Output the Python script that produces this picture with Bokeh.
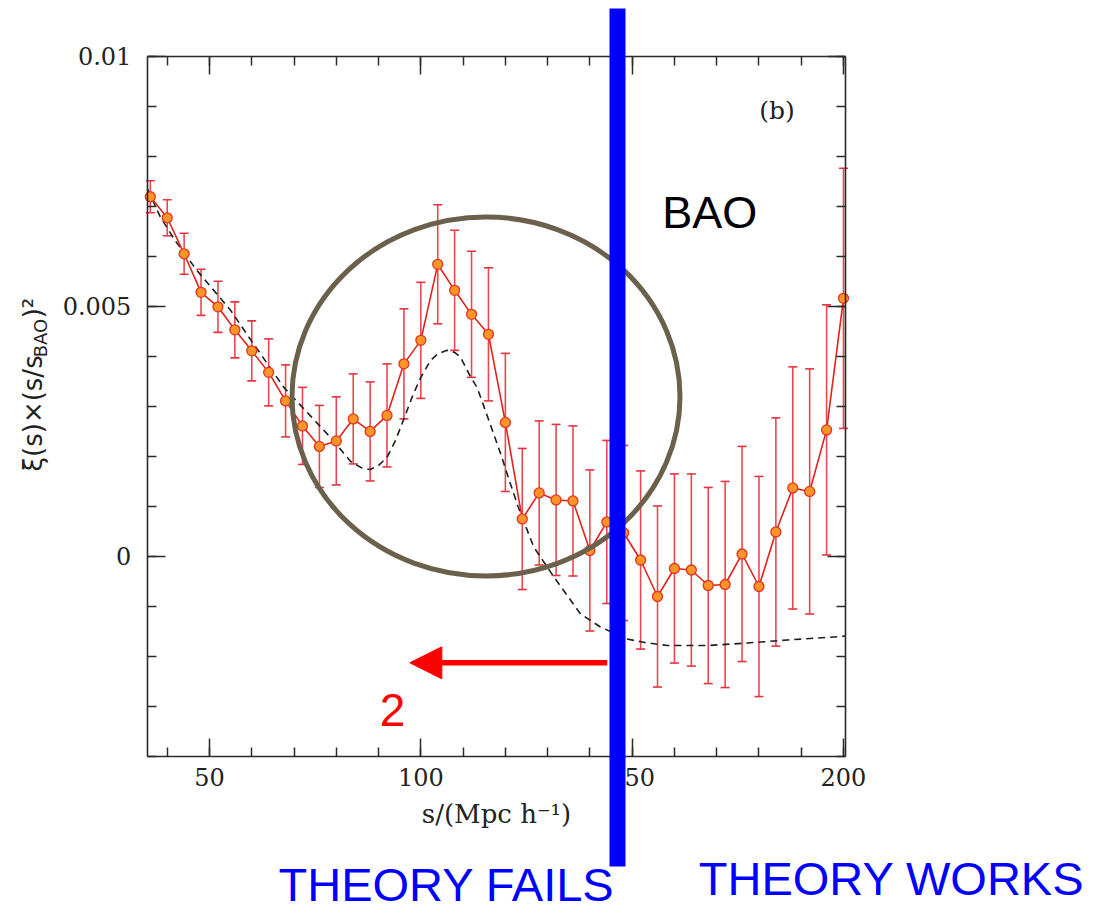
import math
from bokeh.plotting import figure
from bokeh.models import (Range1d, LinearAxis, SingleIntervalTicker, CustomJSTickFormatter,
                          ColumnDataSource, Whisker, TeeHead, Arrow, NormalHead)
from bokeh.core.properties import value
from bokeh.embed import file_html
from bokeh.resources import INLINE

# ---------------- data ----------------
s_bins = [36, 40, 44, 48, 52, 56, 60, 64, 68, 72, 76, 80, 84, 88, 92, 96, 100,
          104, 108, 112, 116, 120, 124, 128, 132, 136, 140, 144, 148, 152, 156,
          160, 164, 168, 172, 176, 180, 184, 188, 192, 196, 200]
xi_obs = [0.00719, 0.00677, 0.00605, 0.00528, 0.00499, 0.00453, 0.00411, 0.00368,
          0.00311, 0.00261, 0.00220, 0.00231, 0.00275, 0.00250, 0.00282, 0.00385,
          0.00432, 0.00584, 0.00532, 0.00484, 0.00444, 0.00268, 0.00075, 0.00127,
          0.00113, 0.00111, 0.00012, 0.00069, 0.00047, -0.00007, -0.00080, -0.00024,
          -0.00027, -0.00058, -0.00056, 0.00005, -0.00060, 0.00049, 0.00137, 0.00130,
          0.00253, 0.00516]
xi_err = [0.00032, 0.00036, 0.00041, 0.00046, 0.00051, 0.00056, 0.00060, 0.00067,
          0.00072, 0.00077, 0.00082, 0.00088, 0.00090, 0.00099, 0.00103, 0.00110,
          0.00116, 0.00119, 0.00120, 0.00126, 0.00133, 0.00138, 0.00141, 0.00144,
          0.00151, 0.00150, 0.00161, 0.00163, 0.00175, 0.00178, 0.00181, 0.00189,
          0.00192, 0.00196, 0.00206, 0.00215, 0.00220, 0.00228, 0.00242, 0.00245,
          0.00250, 0.00260]

model_s = [35.3, 38.4, 42, 47, 55, 60, 67.6, 74, 78.6, 83.4, 86, 88, 90, 92, 94, 96,
           98, 100, 102.3, 104, 106.2, 108, 109.4, 111.7, 113.3, 115, 116.1, 118.9,
           121, 123, 126.7, 131.5, 137.8, 142.5, 148.8, 153, 158.3, 167.8, 177.2,
           186.7, 199.2, 200.5]
model_xi = [0.00735, 0.00678, 0.00630, 0.00572, 0.00492, 0.00430, 0.00338, 0.00280,
            0.00238, 0.00190, 0.00177, 0.00174, 0.00182, 0.00198, 0.00232, 0.00275,
            0.00320, 0.00358, 0.00392, 0.00405, 0.00412, 0.00408, 0.00398, 0.00360,
            0.00338, 0.00298, 0.00272, 0.00205, 0.00150, 0.00100, 0.00019, -0.00041,
            -0.00115, -0.00141, -0.00165, -0.00172, -0.00178, -0.00178, -0.00173,
            -0.00167, -0.00160, -0.00159]

x_tick_step = 50
y_tick_step = 0.005

# ---------------- layout constants ----------------
W, H = 1093, 913
XR = (0.553, 259.15)           # whole canvas in data units
YR = (-0.007136, 0.011113)
X0, X1 = 35.3, 200.5           # plot frame
Y0, Y1 = -0.004, 0.01

ELL = dict(x=115.42, y=0.003198, w=91.8, h=0.007176)
BLUE_X, BLUE_Y0, BLUE_Y1 = 146.53, 0.010953, -0.006196
ARROW = dict(x0=144.1, x1=97.4, y=-0.002125)

AX_COLOR = "#2a2a2a"
ERR_COLOR = "#e5343d"
LINE_COLOR = "#e3221c"
BLUE = "#0000ff"

p = figure(width=W, height=H, x_range=Range1d(*XR), y_range=Range1d(*YR),
           output_backend="svg", toolbar_location=None,
           x_axis_location=None, y_axis_location=None, min_border=0, title=None)
p.outline_line_color = None
p.background_fill_color = "white"
p.border_fill_color = "white"
p.grid.visible = False


def make_axis(loc, bounds, ticker, formatter=None, show_labels=True):
    ax = LinearAxis(fixed_location=loc, bounds=bounds, ticker=ticker)
    if formatter is not None:
        ax.formatter = formatter
    ax.axis_line_color = AX_COLOR
    ax.axis_line_width = 1.6
    ax.major_tick_in = 18
    ax.major_tick_out = 0
    ax.minor_tick_in = 9
    ax.minor_tick_out = 0
    ax.major_tick_line_color = AX_COLOR
    ax.minor_tick_line_color = AX_COLOR
    ax.major_tick_line_width = 1.5
    ax.minor_tick_line_width = 1.5
    ax.major_label_text_font = "DejaVu Serif"
    ax.major_label_text_font_size = "24px"
    ax.major_label_text_color = "#222222"
    if not show_labels:
        ax.formatter = CustomJSTickFormatter(code="return '';")
    return ax


xt = lambda: SingleIntervalTicker(interval=x_tick_step, num_minor_ticks=5)
yt = lambda: SingleIntervalTicker(interval=y_tick_step, num_minor_ticks=5)
yfmt = CustomJSTickFormatter(code="return tick == 0 ? '0' : String(parseFloat(tick.toPrecision(3)));")

bottom = make_axis(Y0, (X0, X1), xt())
bottom.major_label_standoff = 11
bottom.axis_label = "s/(Mpc h\u207b\u00b9)"
bottom.axis_label_text_font = "DejaVu Serif"
bottom.axis_label_text_font_size = "26px"
bottom.axis_label_text_font_style = "normal"
bottom.axis_label_text_color = "#222222"
bottom.axis_label_standoff = 10
p.add_layout(bottom, "below")

left = make_axis(X0, (Y0, Y1), yt(), formatter=yfmt)
left.major_label_standoff = 16
p.add_layout(left, "left")

p.add_layout(make_axis(Y1, (X0, X1), xt(), show_labels=False), "above")
p.add_layout(make_axis(X1, (Y0, Y1), yt(), show_labels=False), "right")

# ---------------- data ----------------
src = ColumnDataSource(dict(
    s=s_bins, xi=xi_obs,
    lo=[v - e for v, e in zip(xi_obs, xi_err)],
    hi=[v + e for v, e in zip(xi_obs, xi_err)],
))
whisk = Whisker(source=src, base="s", lower="lo", upper="hi",
                line_color=ERR_COLOR, line_width=1.6, line_alpha=0.9,
                upper_head=TeeHead(size=9, line_color=ERR_COLOR, line_width=1.6),
                lower_head=TeeHead(size=9, line_color=ERR_COLOR, line_width=1.6))
p.add_layout(whisk)

p.line(model_s, model_xi, line_color="#1e1e1e", line_width=1.6, line_dash="7 5")
p.line("s", "xi", source=src, line_color=LINE_COLOR, line_width=1.6)
p.scatter("s", "xi", source=src, size=10, fill_color="#ff9428",
          line_color="#e0361c", line_width=1.3)

# circle highlighting the BAO bump
p.ellipse(x=[ELL["x"]], y=[ELL["y"]], width=[ELL["w"]], height=[ELL["h"]],
          fill_color=None, line_color="#6b604c", line_width=5)

# texts in the frame
p.text(x=[184.27], y=[0.008915], text=["(b)"], text_font=value("DejaVu Serif"),
       text_font_size="25px", text_color="#222222", text_align="center",
       text_baseline="middle")
p.text(x=[157.1], y=[0.006876], text=["BAO"], text_font=value("Liberation Sans"),
       text_font_size="45px", text_color="black", text_align="left",
       text_baseline="alphabetic")
p.text(x=[93.3], y=[-0.003072], text=["2"], text_font=value("Liberation Sans"),
       text_font_size="46px", text_color="#ff0000", text_align="center",
       text_baseline="alphabetic")

# y axis label (rotated, with subscript)
lab_font = value("DejaVu Sans")
p.text(x=[8.36], y=[0.001700], text=["\u03be(s)\u00d7(s/s"], text_font=lab_font,
       text_font_size="26px", text_color="#222222", angle=math.pi / 2,
       text_align="left", text_baseline="middle")
p.text(x=[9.9], y=[0.003980], text=["BAO"], text_font=lab_font,
       text_font_size="18px", text_color="#222222", angle=math.pi / 2,
       text_align="left", text_baseline="middle")
p.text(x=[8.36], y=[0.004760], text=[")\u00b2"], text_font=lab_font,
       text_font_size="26px", text_color="#222222", angle=math.pi / 2,
       text_align="left", text_baseline="middle")

# red arrow
p.add_layout(Arrow(x_start=ARROW["x0"], y_start=ARROW["y"], x_end=ARROW["x1"], y_end=ARROW["y"],
                   line_color="#ff0000", line_width=5.5,
                   end=NormalHead(size=32, fill_color="#ff0000", line_color="#ff0000")))

# thick blue divider
p.segment(x0=[BLUE_X], y0=[BLUE_Y0], x1=[BLUE_X], y1=[BLUE_Y1], line_color=BLUE,
          line_width=16, line_cap="butt", level="overlay")

p.text(x=[66.32], y=[-0.006566], text=["THEORY FAILS"], text_font=value("Liberation Sans"),
       text_font_size="47px", text_color=BLUE, text_align="left", text_baseline="alphabetic")
p.text(x=[165.76], y=[-0.006446], text=["THEORY WORKS"], text_font=value("Liberation Sans"),
       text_font_size="47px", text_color=BLUE, text_align="left", text_baseline="alphabetic")

open("out.html", "w").write(file_html(p, INLINE))
